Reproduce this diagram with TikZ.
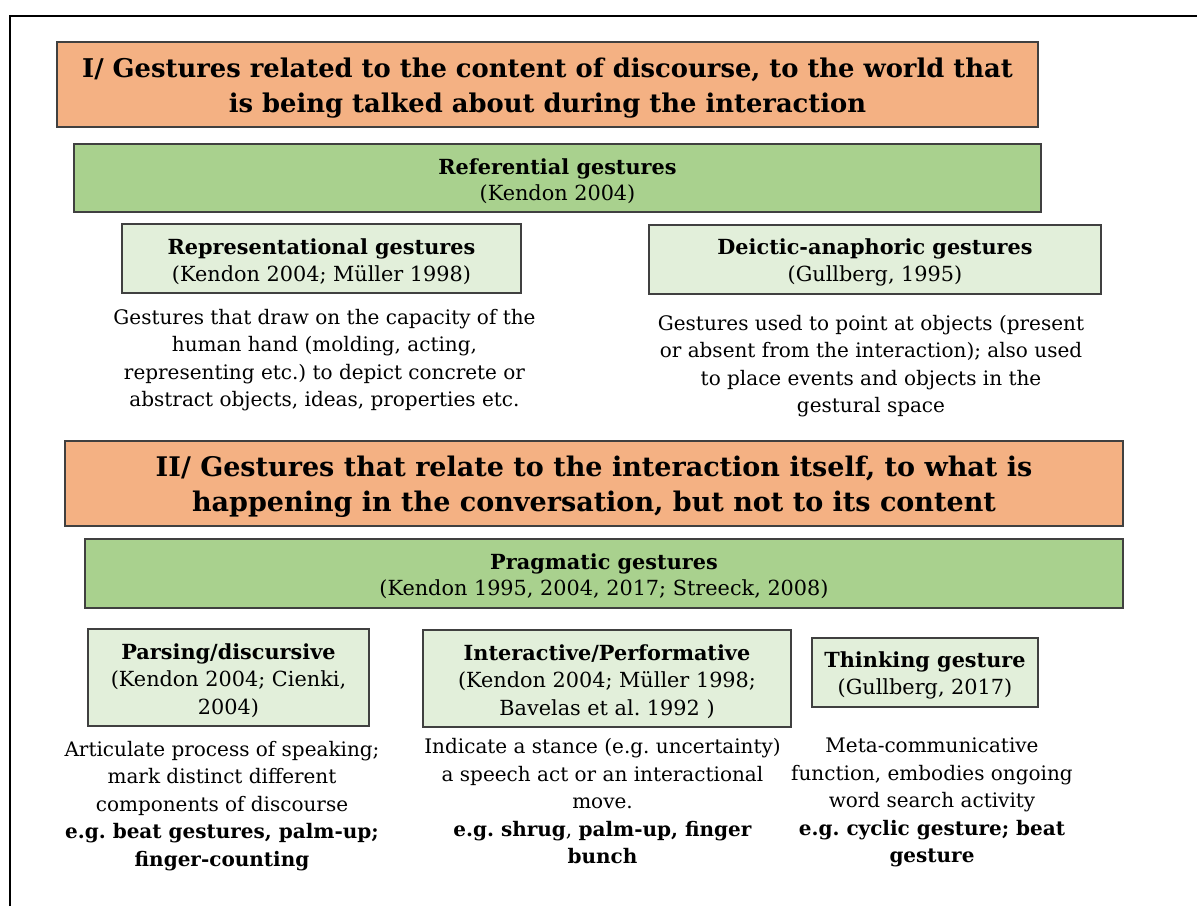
\documentclass[tikz,border=0pt]{standalone}
\usepackage{fontspec}
\setmainfont{DejaVu Serif}
\frenchspacing
\definecolor{headorange}{HTML}{F4B183}
\definecolor{groupgreen}{HTML}{A9D18E}
\definecolor{typegreen}{HTML}{E2EFDA}
\definecolor{edgegray}{HTML}{404040}
\begin{document}
\begin{tikzpicture}[x=1pt,y=-1pt,
    headbox/.style={draw=edgegray,line width=1.3pt,fill=headorange,align=center,inner sep=0pt},
    groupbox/.style={draw=edgegray,line width=1.3pt,fill=groupgreen,align=center,inner sep=0pt,
        font=\fontsize{20.8}{26}\selectfont},
    typebox/.style={draw=edgegray,line width=1.1pt,fill=typegreen,align=center,inner sep=0pt,
        font=\fontsize{20.8}{27.5}\selectfont},
    desc/.style={align=center,inner sep=0pt,font=\fontsize{20}{27.5}\selectfont}]

    %struts that push the first line of a box down a little
    \def\hs{\rule{0pt}{27pt}}
    \def\bs{\rule{0pt}{22pt}}

    \useasboundingbox (0,0) rectangle (1197,906);

    %outer frame, cut off at the right and bottom
    \draw[line width=2pt] (10,906) -- (10,16) -- (1197,16);

    %part I, the content of discourse
    \node[headbox,font=\fontsize{25.8}{35}\selectfont\bfseries,minimum width=981pt,minimum height=85pt] (head1) at (547.5,84.5)
        {\hs I/ Gestures related to the content of discourse, to the world that\\is being talked about during the interaction};
    \node[groupbox,minimum width=967pt,minimum height=68pt] (referential) at (557.5,178)
        {\bs\textbf{Referential gestures}\\(Kendon 2004)};

    \node[typebox,minimum width=399pt,minimum height=69pt] (representational) at (321.5,258.5)
        {\bs\textbf{Representational gestures}\\(Kendon 2004; Müller 1998)};
    \node[typebox,minimum width=452pt,minimum height=69pt] (deictic) at (875,259.5)
        {\bs\textbf{Deictic-anaphoric gestures}\\(Gullberg, 1995)};

    \node[desc] (representational text) at (324.5,360)
        {Gestures that draw on the capacity of the\\human hand (molding, acting,\\representing etc.) to depict concrete or\\abstract objects, ideas, properties etc.};
    \node[desc] (deictic text) at (871,366)
        {Gestures used to point at objects (present\\or absent from the interaction); also used\\to place events and objects in the\\gestural space};

    %part II, the interaction itself
    \node[headbox,font=\fontsize{27}{35}\selectfont\bfseries,minimum width=1058pt,minimum height=85pt] (head2) at (594,483.5)
        {\hs II/ Gestures that relate to the interaction itself, to what is\\happening in the conversation, but not to its content};
    \node[groupbox,minimum width=1038pt,minimum height=69pt] (pragmatic) at (604,573.5)
        {\bs\textbf{Pragmatic gestures}\\(Kendon 1995, 2004, 2017; Streeck, 2008)};

    \node[typebox,minimum width=281pt,minimum height=97pt] (parsing) at (228.5,677.5)
        {\bs\textbf{Parsing/discursive}\\(Kendon 2004; Cienki,\\2004)};
    \node[typebox,minimum width=368pt,minimum height=97pt] (interactive) at (607,678.5)
        {\bs\textbf{Interactive/Performative}\\(Kendon 2004; Müller 1998;\\Bavelas et al. 1992 )};
    \node[typebox,minimum width=226pt,minimum height=69pt] (thinking) at (925,672.5)
        {\bs\textbf{Thinking gesture}\\(Gullberg, 2017)};

    \node[desc] (parsing text) at (222,806)
        {Articulate process of speaking;\\mark distinct different\\components of discourse\\\textbf{e.g. beat gestures, palm-up;}\\\textbf{finger-counting}};
    \node[desc] (interactive text) at (602.5,801.5)
        {Indicate a stance (e.g. uncertainty)\\a speech act or an interactional\\move.\\\textbf{e.g. shrug}, \textbf{palm-up, finger}\\\textbf{bunch}};
    \node[desc] (thinking text) at (932,802.5)
        {Meta-communicative\\function, embodies ongoing\\word search activity\\\textbf{e.g. cyclic gesture; beat}\\\textbf{gesture}};

\end{tikzpicture}
\end{document}
